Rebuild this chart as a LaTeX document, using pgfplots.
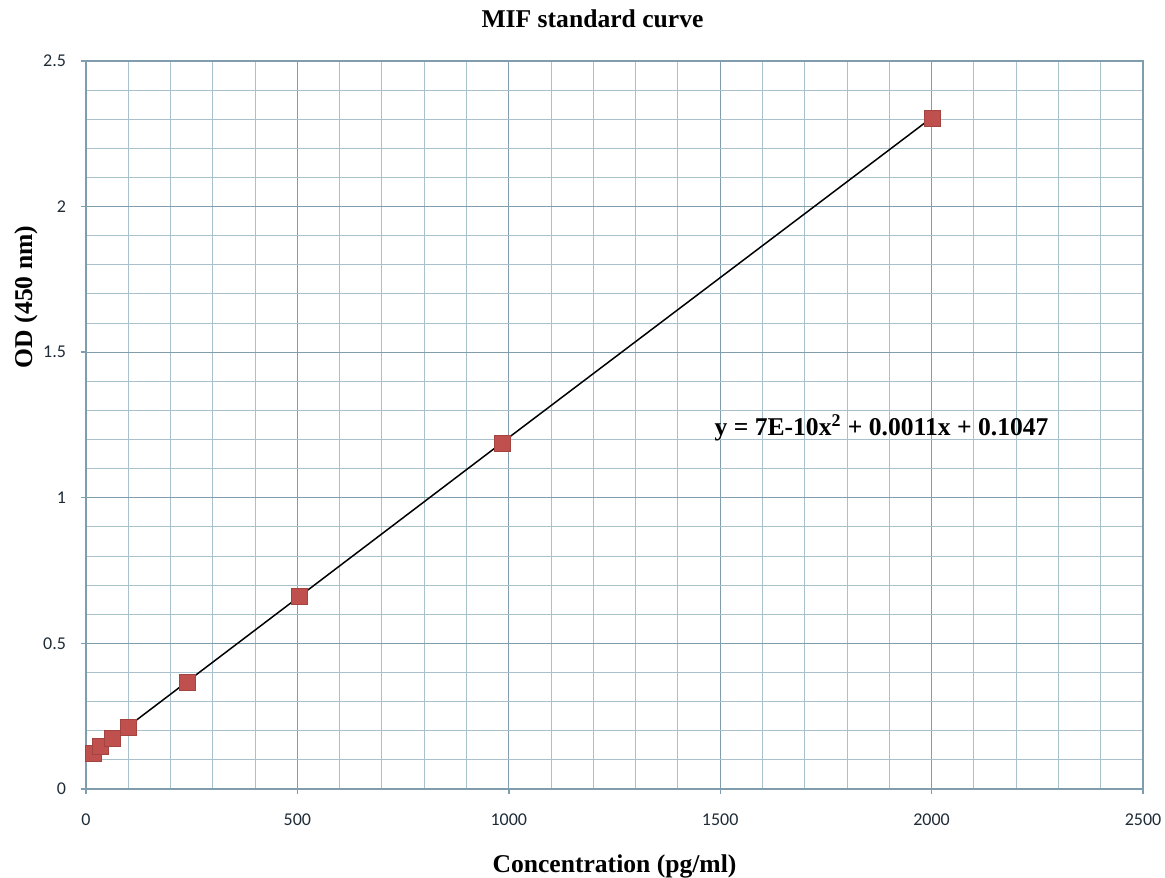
\documentclass[border=0pt]{standalone}
\usepackage{fontspec}
\setmainfont{Liberation Serif}
\newfontfamily\tickfont{Carlito}
\usepackage{pgfplots}
\pgfplotsset{compat=1.18}
\definecolor{majgrid}{HTML}{7F9DAD}
\definecolor{mingrid}{HTML}{A9C1CD}
\definecolor{ticktxt}{HTML}{1F2C38}
\definecolor{markred}{HTML}{C0504D}
\begin{document}
\begin{tikzpicture}
\path[use as bounding box] (-43pt,-44pt) rectangle (539.5pt,394.5pt);
\begin{axis}[
  at={(0,0)}, anchor=origin,
  scale only axis, width=528.5pt, height=364pt,
  xmin=0, xmax=2500, ymin=0, ymax=2.5,
  xtick distance=500, ytick distance=0.5,
  minor x tick num=4, minor y tick num=4,
  grid=both,
  major grid style={majgrid, line width=0.6pt},
  minor grid style={mingrid, line width=0.5pt},
  axis line style={majgrid, line width=0.7pt},
  tick style={majgrid, line width=0.7pt},
  major tick length=2.5pt, minor tick length=0pt,
  tick align=outside,
  xtick pos=left, ytick pos=left,
  /pgf/number format/1000 sep={},
  /pgf/number format/assume math mode=true,
  tick label style={font=\tickfont\fontsize{9}{10}\selectfont, text=ticktxt},
  xticklabel style={yshift=-6.5pt},
  yticklabel style={xshift=-4pt},
  title={\bfseries MIF standard curve},
  title style={font=\fontsize{12.8}{14}\selectfont, at={(axis description cs:0.5,1)},
    anchor=center, xshift=-11pt, yshift=15pt},
  xlabel={\bfseries Concentration (pg/ml)},
  ylabel={\bfseries OD (450 nm)},
  label style={font=\fontsize{12.8}{14}\selectfont},
  xlabel style={at={(axis description cs:0.5,0)}, anchor=center, yshift=-38.5pt},
  ylabel style={at={(axis description cs:0,0.5)}, anchor=center, xshift=64pt, yshift=30pt},
]
\addplot[black, line width=0.75pt] coordinates {
  (17,0.124) (500,0.656) (1000,1.207) (2000,2.305)
};
\addplot[only marks, mark=square*, mark size=4pt,
  mark options={fill=markred, draw=markred!85!black, line width=0.3pt}] coordinates {
  (17,0.123) (35,0.145) (63,0.174) (99,0.212) (240,0.366)
  (504,0.663) (984,1.188) (2001,2.304)
};
\node[anchor=west, font=\bfseries\fontsize{12.8}{14}\selectfont] at (axis cs:1470,1.24)
  {y = 7E-10x\textsuperscript{2} + 0.0011x + 0.1047};
\end{axis}
\end{tikzpicture}
\end{document}
